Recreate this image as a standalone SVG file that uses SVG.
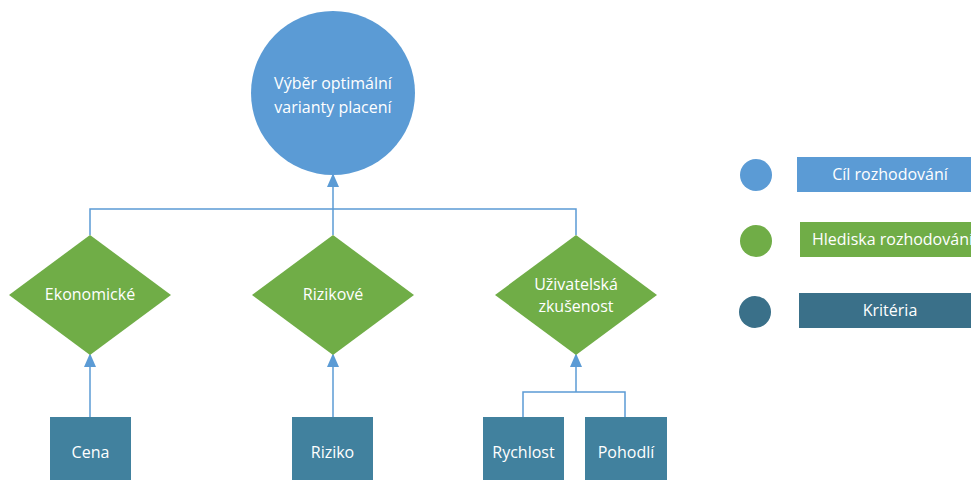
<svg xmlns="http://www.w3.org/2000/svg" width="971" height="482" viewBox="0 0 971 482">
<defs>
<style>
.t{font-family:"Open Sans","Noto Sans",sans-serif;font-size:16px;fill:#fff;text-anchor:middle}
.c{fill:none;stroke:#5B9BD5;stroke-width:1.5}
.blue{fill:#5B9BD5}
.green{fill:#70AD47}
.box{fill:#41819E}
.dark{fill:#3A7089}
</style>
<marker id="ah" markerWidth="14" markerHeight="16" refX="14" refY="7" orient="auto" markerUnits="userSpaceOnUse" viewBox="0 0 16 14">
<path d="M0,0 L16,7 L0,14 Z" fill="#5B9BD5"/>
</marker>
</defs>
<rect width="971" height="482" fill="#fff"/>
<g id="connectors">
<path class="c" d="M90,235 V209 H576 V235"/>
<path class="c" d="M333,235 V175" marker-end="url(#ah)"/>
<path class="c" d="M90,417 V355" marker-end="url(#ah)"/>
<path class="c" d="M333,417 V355" marker-end="url(#ah)"/>
<path class="c" d="M523,417 V392 H625 V417"/>
<path class="c" d="M576,392 V355" marker-end="url(#ah)"/>
</g>
<g id="goal">
<circle class="blue" cx="333" cy="93" r="82"/>
<text class="t" x="333" y="89">Výběr optimální</text>
<text class="t" x="333" y="113">varianty placení</text>
</g>
<g id="ekonomicke">
<polygon class="green" points="90,235 171,295 90,355 9,295"/>
<text class="t" x="90" y="300">Ekonomické</text>
</g>
<g id="rizikove">
<polygon class="green" points="333,235 414,295 333,355 252,295"/>
<text class="t" x="333" y="300">Rizikové</text>
</g>
<g id="uzivatelska">
<polygon class="green" points="576,235 657,295 576,355 495,295"/>
<text class="t" x="576" y="290">Uživatelská</text>
<text class="t" x="576" y="312">zkušenost</text>
</g>
<g id="cena">
<rect class="box" x="50" y="417" width="81" height="63"/>
<text class="t" x="90.5" y="458">Cena</text>
</g>
<g id="riziko">
<rect class="box" x="292" y="417" width="81" height="63"/>
<text class="t" x="332.5" y="458">Riziko</text>
</g>
<g id="rychlost">
<rect class="box" x="483" y="417" width="81" height="63"/>
<text class="t" x="523.5" y="458">Rychlost</text>
</g>
<g id="pohodli">
<rect class="box" x="585" y="417" width="82" height="63"/>
<text class="t" x="626" y="458">Pohodlí</text>
</g>
<g id="legend-goal">
<circle class="blue" cx="756" cy="175" r="16"/>
<rect class="blue" x="797" y="157" width="186" height="35"/>
<text class="t" x="890" y="180">Cíl rozhodování</text>
</g>
<g id="legend-aspects">
<circle class="green" cx="756" cy="241" r="16"/>
<rect class="green" x="800" y="222" width="186" height="35"/>
<text class="t" x="812" y="245" style="text-anchor:start">Hlediska rozhodování</text>
</g>
<g id="legend-criteria">
<circle class="dark" cx="755" cy="312" r="16"/>
<rect class="dark" x="799" y="293" width="186" height="35"/>
<text class="t" x="890" y="316">Kritéria</text>
</g>
</svg>
